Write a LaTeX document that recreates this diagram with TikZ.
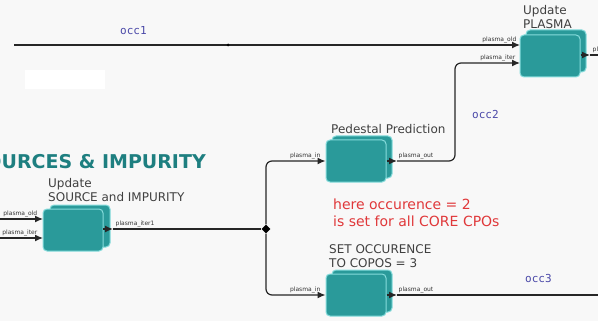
\documentclass[tikz,border=0pt]{standalone}
\usepackage{fontspec}
\setmainfont{DejaVu Sans}
\newfontfamily\occfont{DejaVu Sans Mono}
\usetikzlibrary{arrows.meta,shapes.geometric}

\definecolor{blockfill}{HTML}{2A9A9A}
\definecolor{blockedge}{HTML}{86DCDC}
\definecolor{occblue}{HTML}{4A48A8}
\definecolor{titleteal}{HTML}{1E7F80}
\definecolor{notered}{HTML}{E0383A}
\definecolor{canvas}{HTML}{F8F8F8}

\begin{document}
\begin{tikzpicture}[
    x=1pt, y=-1pt,
    block/.style={draw=blockedge, line width=1pt, fill=blockfill, rounded corners=4pt,
        minimum width=60pt, minimum height=42pt, inner sep=0pt},
    wire/.style={line width=1.2pt, draw=black!85},
    feed/.style={wire, -{Latex[length=8pt,width=7pt]}},
    port/.style={font=\fontsize{6}{7}\selectfont, text=black!80, inner sep=0.5pt},
    occ/.style={font=\occfont\fontsize{11}{12}\selectfont, text=occblue},
    caption/.style={font=\fontsize{12}{14}\selectfont, text=black!75, align=left, inner sep=0pt}
]
\clip (0,0) rectangle (598,321);
\fill[canvas] (0,0) rectangle (598,321);
\fill[white] (25,70) rectangle (105,89);

% actors
\node[block] (srcback) at (80,226) {};
\node[block] (src) at (73,230) {};
\node[block] (pedback) at (362,157) {};
\node[block] (ped) at (356,161) {};
\node[block] (setback) at (362,291) {};
\node[block] (set) at (356,295) {};
\node[block] (plasmaback) at (556,51) {};
\node[block] (plasma) at (550,56) {};

% ports
\coordinate (occin) at (14,45);
\coordinate (plasmaold) at (520,45);
\coordinate (plasmaiter) at (520,63);
\coordinate (srcold) at (0,219);
\coordinate (srciter) at (0,238);
\coordinate (srcoldin) at (43,219);
\coordinate (srciterin) at (43,238);
\coordinate (srcout) at (113,229);
\coordinate (pedout) at (397,161);
\coordinate (setout) at (397,295);
\coordinate (plasmaout) at (590,55);
\coordinate (occend) at (598,295);
\coordinate (rightend) at (598,55);

% connectors
\draw[feed] (occin) -- (plasmaold);
\node[circle, fill=black, inner sep=0pt, minimum size=3pt] (tap) at (228,45) {};
\draw[feed] (srcold) -- (srcoldin);
\draw[feed] (srciter) -- (srciterin);
\draw[feed] (103,229) -- (srcout);
\draw[feed] (ped.east) -- (pedout);
\draw[feed] (set.east) -- (setout);
\draw[feed] (plasma.east |- plasmaout) -- (plasmaout);
\draw[wire] (plasmaout) -- (rightend);

\node[diamond, fill=black, inner sep=0pt, minimum size=9pt] (junc) at (266,229) {};
\draw[wire] (srcout) -- (junc);
\draw[feed, rounded corners=6pt] (junc) |- (ped.west);
\draw[feed, rounded corners=6pt] (junc) |- (set.west);
\draw[feed, rounded corners=6pt] (pedout) -- (455,161) -- (455,63) -- (plasmaiter);
\draw[wire] (setout) -- (occend);

% port labels
\node[port, anchor=south east] at (517,44) {plasma\_old};
\node[port, anchor=south east] at (516,62) {plasma\_iter};
\node[port, anchor=south west] at (592,54) {plasma\_out};
\node[port, anchor=south east] at (38,218) {plasma\_old};
\node[port, anchor=south east] at (38,237) {plasma\_iter};
\node[port, anchor=south west] at (115,228) {plasma\_iter1};
\node[port, anchor=south east] at (321,160) {plasma\_in};
\node[port, anchor=south west] at (398,160) {plasma\_out};
\node[port, anchor=south east] at (321,294) {plasma\_in};
\node[port, anchor=south west] at (398,294) {plasma\_out};

% captions
\node[caption, anchor=north west] (plasmacap) at (523,5) {Update\\PLASMA};
\node[caption, anchor=north west] (srccap) at (48,178) {Update\\SOURCE and IMPURITY};
\node[caption, anchor=base west] (pedcap) at (331,134) {Pedestal Prediction};
\node[caption, anchor=north west] (setcap) at (329,244) {SET OCCURENCE\\TO COPOS = 3};
\node[anchor=base east, inner sep=0pt, text=titleteal,
    font=\bfseries\fontsize{19}{22}\selectfont] (title) at (206,168) {SOURCES \& IMPURITY};
\node[anchor=north west, inner sep=0pt, align=left, text=notered,
    font=\fontsize{14}{17}\selectfont] (note) at (333,199) {here occurence = 2\\is set for all CORE CPOs};

\node[occ, anchor=base west, inner sep=0pt] (occ1) at (120,35) {occ1};
\node[occ, anchor=base west, inner sep=0pt] (occ2) at (472,118) {occ2};
\node[occ, anchor=base west, inner sep=0pt] (occ3) at (525,282) {occ3};
\end{tikzpicture}
\end{document}
